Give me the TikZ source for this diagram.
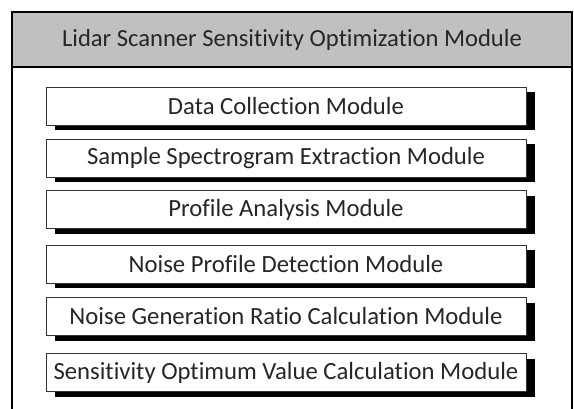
\documentclass[tikz,border=0pt]{standalone}
\usepackage{fontspec}
\setmainfont{Carlito}[Ligatures={NoCommon}]
\usepackage{tikz}
\usetikzlibrary{shadows}
\usetikzlibrary{positioning}

\definecolor{headgray}{RGB}{192,192,192}

\tikzset{
    modbox/.style={draw=black!80, line width=0.8pt, fill=white,
        minimum width=480pt, minimum height=38pt, inner sep=0pt,
        font=\fontsize{24.7}{29}\selectfont, text=black!85,
        drop shadow={shadow xshift=9pt, shadow yshift=-5pt, fill=black, opacity=1}},
    headtext/.style={font=\fontsize{24.6}{29}\selectfont, text=black!85, inner sep=0pt}
}

\begin{document}
\begin{tikzpicture}[x=1pt,y=1pt]
    \useasboundingbox (0,0) rectangle (574,408);
    \fill[white] (0,0) rectangle (574,408);
    % outer frame with grey header
    \fill[headgray] (12,396) rectangle (572,341);
    \draw[line width=1.5pt] (12,-5) -- (12,396) -- (572,396) -- (572,-5);
    \draw[line width=1.5pt] (12,341) -- (572,341);
    \node[headtext] (title) at (292,368.5) {Lidar Scanner Sensitivity Optimization Module};

    % the six sub modules
    \node[modbox] (collect) at (286,302) {Data Collection Module};
    \node[modbox] (spectro) at (286,250) {Sample Spectrogram Extraction Module};
    \node[modbox] (profile) at (286,198.5) {Profile Analysis Module};
    \node[modbox] (noisedet) at (286,144) {Noise Profile Detection Module};
    \node[modbox] (noisegen) at (286,91.5) {Noise Generation Ratio Calculation Module};
    \node[modbox] (optimum) at (286,35.5) {Sensitivity Optimum Value Calculation Module};
\end{tikzpicture}
\end{document}
